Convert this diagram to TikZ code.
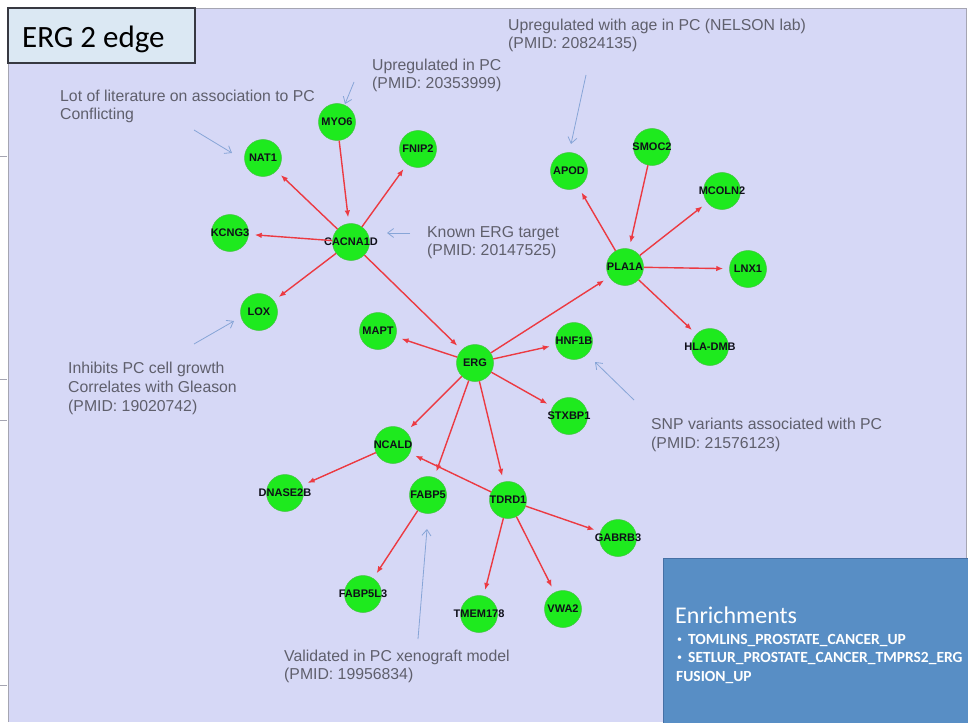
\documentclass[tikz,border=0pt]{standalone}
\usepackage{fontspec}
\setmainfont{Liberation Sans}
\newfontfamily\calibrifont{Carlito}
\usetikzlibrary{arrows.meta}

\definecolor{panelbg}{RGB}{214,216,246}
\definecolor{panelrule}{RGB}{165,165,178}
\definecolor{titlebg}{RGB}{219,232,243}
\definecolor{titlerule}{RGB}{55,57,65}
\definecolor{genefill}{RGB}{30,234,30}
\definecolor{generule}{RGB}{70,195,70}
\definecolor{genetext}{RGB}{15,15,25}
\definecolor{edgered}{RGB}{236,58,66}
\definecolor{notegray}{RGB}{95,95,108}
\definecolor{noteblue}{RGB}{135,165,215}
\definecolor{enrichbg}{RGB}{88,142,197}
\definecolor{enrichrule}{RGB}{70,112,165}

% gene name that may overhang its circle without enlarging it
\newcommand\genename[1]{\makebox[0pt][c]{#1}}

\begin{document}
\begin{tikzpicture}[x=1pt,y=-1pt,
  gene/.style={circle,fill=genefill,draw=generule,line width=0.5pt,
    minimum size=37pt,inner sep=0pt,text=genetext,
    font=\fontsize{11}{11}\selectfont\bfseries},
  edge/.style={draw=edgered,line width=1.4pt,
    -{Latex[length=7pt,width=5.5pt]},shorten >=6pt},
  note/.style={anchor=base west,inner sep=0pt,text=notegray,
    font=\fontsize{15.8}{16}\selectfont},
  pointer/.style={draw=noteblue,line width=0.8pt,
    -{Straight Barb[length=6pt,width=9pt]}},
  enrich/.style={anchor=base west,inner sep=0pt,text=white,
    font=\calibrifont\fontsize{15.5}{16}\selectfont\bfseries},
  bulletmark/.style={anchor=base west,inner sep=0pt,text=white,
    font=\calibrifont\fontsize{10}{10}\selectfont},
]
\useasboundingbox (0,0) rectangle (968,722);

% slide panel
\fill[white] (0,0) rectangle (968,722);
\fill[panelbg] (8,8) rectangle (966,722);
\draw[panelrule,line width=0.8pt] (8,722) -- (8,8) -- (966,8) -- (966,722);
\foreach \ty in {156,379,420,685}
  \draw[panelrule,line width=0.6pt] (0,\ty) -- (7,\ty);

% title
\draw[titlerule,fill=titlebg,line width=1.2pt] (8,8) rectangle (195,63);
\node[anchor=base west,inner sep=0pt,font=\calibrifont\fontsize{31}{31}\selectfont]
  (title) at (22,48) {ERG 2 edge};

% genes
\node[gene] (myo6)    at (337,122) {\genename{MYO6}};
\node[gene] (fnip2)   at (418,149) {\genename{FNIP2}};
\node[gene] (nat1)    at (263,158) {\genename{NAT1}};
\node[gene] (kcng3)   at (230,233) {\genename{KCNG3}};
\node[gene] (cacna1d) at (351,242) {\genename{CACNA1D}};
\node[gene] (lox)     at (259,312) {\genename{LOX}};
\node[gene] (mapt)    at (378,331) {\genename{MAPT}};
\node[gene] (erg)     at (475,363) {\genename{ERG}};
\node[gene] (hnf1b)   at (574,341) {\genename{HNF1B}};
\node[gene] (stxbp1)  at (569,416) {\genename{STXBP1}};
\node[gene] (ncald)   at (393,445) {\genename{NCALD}};
\node[gene] (fabp5)   at (428,495) {\genename{FABP5}};
\node[gene] (tdrd1)   at (508,500) {\genename{TDRD1}};
\node[gene] (dnase2b) at (285,493) {\genename{DNASE2B}};
\node[gene] (fabp5l3) at (363,594) {\genename{FABP5L3}};
\node[gene] (tmem178) at (479,614) {\genename{TMEM178}};
\node[gene] (vwa2)    at (563,609) {\genename{VWA2}};
\node[gene] (gabrb3)  at (618,538) {\genename{GABRB3}};
\node[gene] (apod)    at (569,171) {\genename{APOD}};
\node[gene] (smoc2)   at (652,147) {\genename{SMOC2}};
\node[gene] (mcoln2)  at (722,191) {\genename{MCOLN2}};
\node[gene] (pla1a)   at (625,267) {\genename{PLA1A}};
\node[gene] (lnx1)    at (748,269) {\genename{LNX1}};
\node[gene] (hladmb)  at (710,347) {\genename{HLA-DMB}};

% interactions
\draw[edge] (myo6) -- (cacna1d);
\draw[edge] (cacna1d) -- (nat1);
\draw[edge] (cacna1d) -- (fnip2);
\draw[edge] (cacna1d) -- (kcng3);
\draw[edge] (cacna1d) -- (lox);
\draw[edge] (cacna1d) -- (erg);
\draw[edge] (erg) -- (mapt);
\draw[edge] (erg) -- (hnf1b);
\draw[edge] (erg) -- (stxbp1);
\draw[edge] (erg) -- (ncald);
\draw[edge] (erg) -- (fabp5);
\draw[edge] (erg) -- (tdrd1);
\draw[edge] (erg) -- (pla1a);
\draw[edge] (ncald) -- (dnase2b);
\draw[edge] (tdrd1) -- (ncald);
\draw[edge] (fabp5) -- (fabp5l3);
\draw[edge] (tdrd1) -- (tmem178);
\draw[edge] (tdrd1) -- (vwa2);
\draw[edge] (tdrd1) -- (gabrb3);
\draw[edge] (smoc2) -- (pla1a);
\draw[edge] (pla1a) -- (apod);
\draw[edge] (pla1a) -- (mcoln2);
\draw[edge] (pla1a) -- (lnx1);
\draw[edge] (pla1a) -- (hladmb);

% annotations
\node[note] (n1a) at (60,102) {Lot of literature on association to PC};
\node[note] (n1b) at (60,120) {Conflicting};
\node[note] (n2a) at (372,71) {Upregulated in PC};
\node[note] (n2b) at (372,89) {(PMID: 20353999)};
\node[note] (n3a) at (508,31) {Upregulated with age in PC (NELSON lab)};
\node[note] (n3b) at (508,49) {(PMID: 20824135)};
\node[note] (n4a) at (427,237) {Known ERG target};
\node[note] (n4b) at (427,255) {(PMID: 20147525)};
\node[note] (n5a) at (68,373) {Inhibits PC cell growth};
\node[note] (n5b) at (68,392) {Correlates with Gleason};
\node[note] (n5c) at (68,411) {(PMID: 19020742)};
\node[note] (n6a) at (651,429) {SNP variants associated with PC};
\node[note] (n6b) at (651,448) {(PMID: 21576123)};
\node[note] (n7a) at (284,661) {Validated in PC xenograft model};
\node[note] (n7b) at (284,679) {(PMID: 19956834)};

% annotation pointers
\coordinate (p1s) at (194,130); \coordinate (p1e) at (232,153);
\coordinate (p2s) at (354,82);  \coordinate (p2e) at (345,104);
\coordinate (p3s) at (586,75);  \coordinate (p3e) at (571,144);
\coordinate (p4s) at (410,233); \coordinate (p4e) at (387,233);
\coordinate (p5s) at (194,344); \coordinate (p5e) at (234,321);
\coordinate (p6s) at (634,400); \coordinate (p6e) at (595,362);
\coordinate (p7s) at (418,639); \coordinate (p7e) at (427,529);
\foreach \k in {1,...,7}
  \draw[pointer] (p\k s) -- (p\k e);

% enrichment panel
\draw[enrichrule,fill=enrichbg,line width=1pt] (663,558) rectangle (975,730);
\node[anchor=base west,inner sep=0pt,text=white,
  font=\calibrifont\fontsize{24}{24}\selectfont] (enrhead) at (675,623) {Enrichments};
\node[bulletmark] (b1) at (677,642) {\textbullet};
\node[enrich] (e1) at (688,644) {TOMLINS\_PROSTATE\_CANCER\_UP};
\node[bulletmark] (b2) at (677,660) {\textbullet};
\node[enrich] (e2) at (688,662) {SETLUR\_PROSTATE\_CANCER\_TMPRS2\_ERG};
\node[enrich] (e3) at (676,681) {FUSION\_UP};
\end{tikzpicture}
\end{document}
